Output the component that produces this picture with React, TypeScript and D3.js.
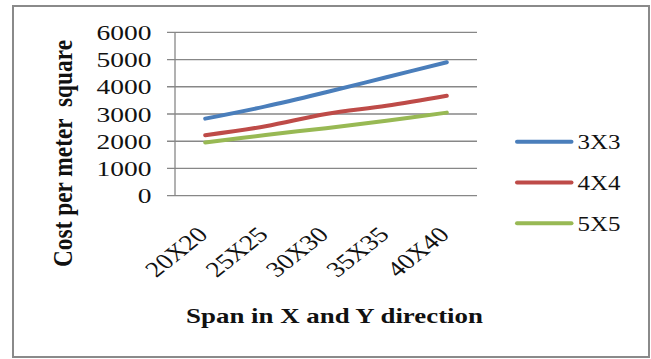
import React from "react";
import * as d3 from "d3";

const categories = ["20X20", "25X25", "30X30", "35X35", "40X40"];
const seriesNames = ["3X3", "4X4", "5X5"];
const values3x3 = [2830, 3280, 3800, 4350, 4900];
const values4x4 = [2220, 2550, 3000, 3300, 3670];
const values5x5 = [1950, 2230, 2480, 2750, 3050];
const yTicks = [0, 1000, 2000, 3000, 4000, 5000, 6000];
const colors = ["#4a7ebb", "#be4b48", "#98b954"];

const W = 651;
const H = 359;
const SX = 1.25;
const FONT = "'Liberation Serif', 'Times New Roman', serif";

export default function App() {
  const series = [values3x3, values4x4, values5x5];
  const plotLeft = 175;
  const plotRight = 477;
  const plotTop = 32.3;
  const plotBottom = 195.7;

  const x = d3.scaleBand<string>().domain(categories).range([plotLeft, plotRight]);
  const y = d3.scaleLinear().domain([0, 6000]).range([plotBottom, plotTop]);
  const cx = (c: string) => (x(c) as number) + x.bandwidth() / 2;

  const line = d3
    .line<number>()
    .x((_, i) => cx(categories[i]))
    .y((v) => y(v))
    .curve(d3.curveCatmullRom.alpha(0.5));

  const grid = "#878787";

  return (
    <svg
      width={W}
      height={H}
      style={{ position: "absolute", left: 0, top: 0, background: "#fff" }}
    >
      <rect x={0} y={0} width={W} height={H} fill="#fff" />
      <rect x={13} y={6} width={636} height={351} fill="#fff" stroke="#8a8a8a" strokeWidth={2} />

      {yTicks.map((t) => (
        <g key={t}>
          <line x1={plotLeft - 8} x2={plotRight} y1={y(t)} y2={y(t)} stroke={grid} strokeWidth={1.3} />
          <text
            transform={`translate(151.5,${y(t) + 7.6}) scale(${SX},1)`}
            textAnchor="end"
            fontFamily={FONT}
            fontSize={22}
            fill="#111"
          >
            {t}
          </text>
        </g>
      ))}
      <line x1={plotLeft} x2={plotLeft} y1={plotTop} y2={plotBottom} stroke={grid} strokeWidth={1.3} />

      {series.map((s, i) => (
        <path
          key={seriesNames[i]}
          d={line(s) as string}
          fill="none"
          stroke={colors[i]}
          strokeWidth={4}
          strokeLinecap="round"
          strokeLinejoin="round"
        />
      ))}

      {categories.map((c) => (
        <text
          key={c}
          transform={`translate(${cx(c) + 4},236) scale(${SX},1) rotate(-45)`}
          textAnchor="end"
          fontFamily={FONT}
          fontSize={22}
          fill="#111"
        >
          {c}
        </text>
      ))}

      <text
        transform={`translate(334.5,323) scale(${SX},1)`}
        textAnchor="middle"
        fontFamily={FONT}
        fontWeight="bold"
        fontSize={21.5}
        fill="#111"
      >
        Span in X and Y direction
      </text>

      <text
        transform={`translate(72,153.5) scale(${SX},1) rotate(-90)`}
        textAnchor="middle"
        fontFamily={FONT}
        fontWeight="bold"
        fontSize={22}
        fill="#111"
        textLength={227}
        lengthAdjust="spacingAndGlyphs"
        style={{ whiteSpace: "pre" }}
      >
        {"Cost per meter  square"}
      </text>

      {seriesNames.map((n, i) => {
        const ly = 141.7 + i * 40.8;
        return (
          <g key={n}>
            <line x1={517} x2={571.5} y1={ly} y2={ly} stroke={colors[i]} strokeWidth={4} strokeLinecap="round" />
            <text
              transform={`translate(577.5,${ly + 7.6}) scale(${SX},1)`}
              fontFamily={FONT}
              fontSize={20}
              fill="#111"
            >
              {n}
            </text>
          </g>
        );
      })}
    </svg>
  );
}
